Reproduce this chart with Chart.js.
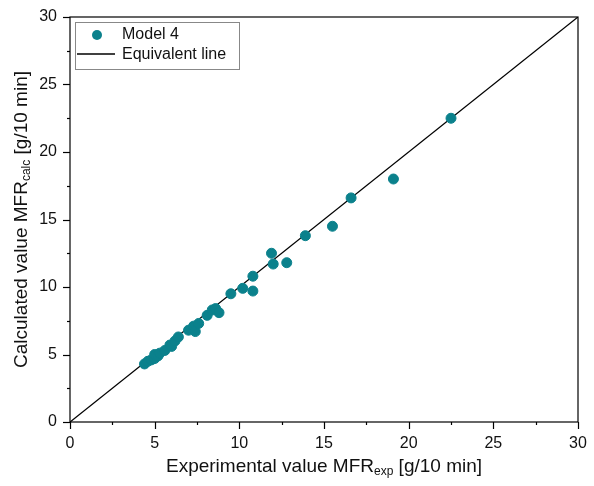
<!DOCTYPE html>
<html>
<head>
<meta charset="utf-8">
<script src="https://cdn.jsdelivr.net/npm/chart.js@4/dist/chart.umd.min.js"></script>
<style>
  body { margin: 0; background: #fff; }
  #wrap { width: 594px; height: 486px; }
</style>
</head>
<body>
<div id="wrap"><canvas id="grafico"></canvas></div>
<script>
// dados
const expValores = [4.4, 4.6, 4.8, 5.0, 5.0, 5.2, 5.3, 5.6, 5.9, 6.0, 6.2, 6.4, 7.0, 7.3, 7.4, 7.6,
  8.1, 8.4, 8.6, 8.8, 9.5, 10.2, 10.8, 10.8, 11.9, 12.0, 12.8, 13.9, 15.5, 16.6, 19.1, 22.5];
const calcValores = [4.3, 4.5, 4.6, 4.7, 5.0, 4.9, 5.1, 5.3, 5.7, 5.6, 6.0, 6.3, 6.8, 7.1, 6.7, 7.3,
  7.9, 8.3, 8.4, 8.1, 9.5, 9.9, 9.7, 10.8, 12.5, 11.7, 11.8, 13.8, 14.5, 16.6, 18.0, 22.5];
const linhaX = [0, 30];
const linhaY = [0, 30];
const ticksEixo = [0, 5, 10, 15, 20, 25, 30];

const corPonto = '#0b818c';
const fonte = '"Liberation Sans", Arial, sans-serif';

const pontos = expValores.map((x, i) => ({ x: x, y: calcValores[i] }));
const linha = linhaX.map((x, i) => ({ x: x, y: linhaY[i] }));

// ticks, moldura, titulos e legenda
const extras = {
  id: 'extras',
  afterDraw(chart) {
    const ctx = chart.ctx;
    const a = chart.chartArea;
    const sx = chart.scales.x, sy = chart.scales.y;
    ctx.save();
    ctx.strokeStyle = '#000';
    ctx.lineWidth = 1.2;
    ctx.strokeRect(a.left, a.top, a.right - a.left, a.bottom - a.top);
    for (let v = 0; v <= 30; v += 2.5) {
      const len = v % 5 === 0 ? 7 : 3;
      const px = Math.round(sx.getPixelForValue(v)) + 0.5;
      ctx.beginPath(); ctx.moveTo(px, a.bottom); ctx.lineTo(px, a.bottom + len); ctx.stroke();
      const py = Math.round(sy.getPixelForValue(v)) + 0.5;
      ctx.beginPath(); ctx.moveTo(a.left, py); ctx.lineTo(a.left - len, py); ctx.stroke();
    }

    ctx.fillStyle = '#111';
    // titulo eixo x
    const partesX = [['Experimental value MFR', 19, 0], ['exp', 12, 5], [' [g/10 min]', 19, 0]];
    desenharTitulo(ctx, partesX, (a.left + a.right) / 2, 467);
    // titulo eixo y
    ctx.save();
    ctx.translate(22, (a.top + a.bottom) / 2);
    ctx.rotate(-Math.PI / 2);
    const partesY = [['Calculated value MFR', 19, 0], ['calc', 12, 5], [' [g/10 min]', 19, 0]];
    desenharTitulo(ctx, partesY, 0, 0);
    ctx.restore();

    // legenda
    ctx.strokeStyle = '#888';
    ctx.lineWidth = 1;
    ctx.strokeRect(75.5, 22.5, 164, 47);
    ctx.fillStyle = corPonto;
    ctx.beginPath(); ctx.arc(97, 35, 5, 0, Math.PI * 2); ctx.fill();
    ctx.strokeStyle = '#000';
    ctx.lineWidth = 1.3;
    ctx.beginPath(); ctx.moveTo(77, 54); ctx.lineTo(115, 54); ctx.stroke();
    ctx.fillStyle = '#111';
    ctx.font = '16px ' + fonte;
    ctx.textBaseline = 'middle';
    ctx.textAlign = 'left';
    ctx.fillText('Model 4', 122, 35);
    ctx.fillText('Equivalent line', 122, 55);
    ctx.restore();
  }
};

function desenharTitulo(ctx, partes, cx, cy) {
  let total = 0;
  partes.forEach(p => { ctx.font = p[1] + 'px ' + fonte; total += ctx.measureText(p[0]).width; });
  let x = cx - total / 2;
  ctx.textBaseline = 'middle';
  ctx.textAlign = 'left';
  partes.forEach(p => {
    ctx.font = p[1] + 'px ' + fonte;
    ctx.fillText(p[0], x, cy + p[2]);
    x += ctx.measureText(p[0]).width;
  });
}

function eixo(pos) {
  return {
    type: 'linear',
    position: pos,
    min: 0,
    max: 30,
    afterBuildTicks: s => { s.ticks = ticksEixo.map(v => ({ value: v })); },
    grid: { display: false },
    border: { display: false },
    ticks: { color: '#111', font: { family: fonte, size: 16 }, padding: pos === 'left' ? 5 : 4 },
    afterFit: s => {
      if (pos === 'left') s.width = 70; else s.height = 64;
    }
  };
}

new Chart(document.getElementById('grafico'), {
  type: 'scatter',
  data: {
    datasets: [
      {
        label: 'Model 4',
        data: pontos,
        backgroundColor: corPonto,
        borderColor: corPonto,
        pointRadius: 5,
        pointHoverRadius: 5
      },
      {
        label: 'Equivalent line',
        type: 'line',
        data: linha,
        borderColor: '#000',
        borderWidth: 1.3,
        pointRadius: 0,
        fill: false
      }
    ]
  },
  options: {
    responsive: true,
    maintainAspectRatio: false,
    animation: false,
    layout: { padding: { left: 0, top: 17, right: 16, bottom: 0 } },
    scales: { x: eixo('bottom'), y: eixo('left') },
    plugins: { legend: { display: false }, tooltip: { enabled: false } }
  },
  plugins: [extras]
});
</script>
</body>
</html>
